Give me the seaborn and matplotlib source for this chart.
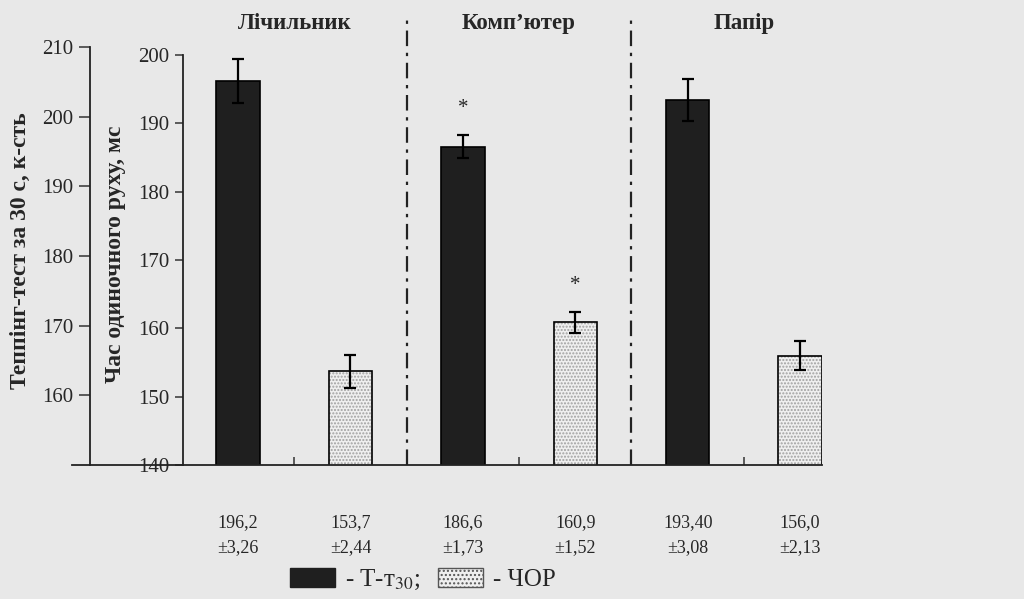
import matplotlib
matplotlib.use("Agg")
import matplotlib.pyplot as plt
from matplotlib.patches import Patch
import matplotlib.colors as mcolors
import pandas as pd
import seaborn as sns


# дані з рисунка
groups = ["Лічильник", "Комп’ютер", "Папір"]
series = ["Т-т30", "ЧОР"]
tapping = [196.2, 186.6, 193.40]
tapping_err = [3.26, 1.73, 3.08]
tapping_txt = ["196,2\n±3,26", "186,6\n±1,73", "193,40\n±3,08"]
reaction = [153.7, 160.9, 156.0]
reaction_err = [2.44, 1.52, 2.13]
reaction_txt = ["153,7\n±2,44", "160,9\n±1,52", "156,0\n±2,13"]
signif_tapping = [False, True, False]
signif_reaction = [False, True, False]

inner_ticks = [140, 150, 160, 170, 180, 190, 200]
outer_ticks = [160, 170, 180, 190, 200, 210]

BG = "#e8e8e8"
DARK = "#1f1f1f"
LIGHT = "#efefef"

sns.set_theme(style="ticks")
plt.rcParams["font.family"] = ["Liberation Serif", "DejaVu Serif"]
plt.rcParams["mathtext.fontset"] = "stix"

# слоти по осі x: Т-т30, проміжок, ЧОР, роздільник ...
order = []
for i, g in enumerate(groups):
    order += [f"{g}|T", f"{g}|gap", f"{g}|C"]
    if i < len(groups) - 1:
        order.append(f"{g}|sep")

rows = []
for g, t, c in zip(groups, tapping, reaction):
    rows.append({"slot": f"{g}|T", "value": t, "series": series[0]})
    rows.append({"slot": f"{g}|C", "value": c, "series": series[1]})
df = pd.DataFrame(rows)

pos_t = [order.index(f"{g}|T") for g in groups]
pos_c = [order.index(f"{g}|C") for g in groups]
pos_mid = [order.index(f"{g}|gap") for g in groups]
pos_sep = [i for i, s in enumerate(order) if s.endswith("|sep")]

fig = plt.figure(figsize=(10.24, 5.99), dpi=100, facecolor=BG)
ax = fig.add_axes([183 / 1024, 134 / 599, 639 / 1024, 410 / 599])
ax.set_facecolor("none")

sns.barplot(
    data=df, x="slot", y="value", hue="series", order=order,
    hue_order=series, palette=[DARK, LIGHT], width=0.77,
    edgecolor="black", linewidth=1.2, errorbar=None, legend=False, ax=ax
)
for p in ax.containers[1]:
    p.set_hatch(".....")
    if hasattr(p, "set_hatchcolor"):
        p.set_hatchcolor("#a0a0a0")
    else:
        p._hatch_color = mcolors.to_rgba("#a0a0a0")

ax.errorbar(pos_t, tapping, yerr=tapping_err, fmt="none", ecolor="black",
            elinewidth=1.6, capsize=4, capthick=1.6)
ax.errorbar(pos_c, reaction, yerr=reaction_err, fmt="none", ecolor="black",
            elinewidth=1.6, capsize=4, capthick=1.6)

for x, v, e, s in zip(pos_t, tapping, tapping_err, signif_tapping):
    if s:
        ax.text(x, v + e + 3.8, "*", ha="center", va="center", fontsize=15)
for x, v, e, s in zip(pos_c, reaction, reaction_err, signif_reaction):
    if s:
        ax.text(x, v + e + 3.8, "*", ha="center", va="center", fontsize=15)

ax.set_xlim(-0.98, 10.39)
ax.set_ylim(140, 200)
ax.set_yticks(inner_ticks)
ax.set_xticks(range(len(order)))
ax.tick_params(axis="x", direction="in", length=6, width=1.1,
               labelbottom=False, color="#333333")
ax.tick_params(axis="y", direction="out", length=6, width=1.1,
               labelsize=15, pad=4, color="#333333")
ax.set_xlabel("")
ax.set_ylabel("Час одиночного руху, мс", fontsize=17, fontweight="bold")
ax.yaxis.set_label_coords(-0.089, 0.515)
sns.despine(ax=ax)
for sp in ["left", "bottom"]:
    ax.spines[sp].set_linewidth(1.3)
    ax.spines[sp].set_color("#222222")

# роздільники груп
for x in pos_sep:
    ax.axvline(x, ymin=0, ymax=1.085, color="#222222", lw=1.6,
               ls=(0, (7, 3, 1.5, 3)), clip_on=False)

# назви груп
trans = ax.get_xaxis_transform()
for x, g in zip(pos_mid, groups):
    ax.text(x, 1.076, g, transform=trans, ha="center", va="center",
            fontsize=16.5, fontweight="bold")

# значення під стовпчиками
for x, t in zip(pos_t, tapping_txt):
    ax.text(x, -0.17, t, transform=trans, ha="center", va="center",
            fontsize=13, linespacing=1.6)
for x, t in zip(pos_c, reaction_txt):
    ax.text(x, -0.17, t, transform=trans, ha="center", va="center",
            fontsize=13, linespacing=1.6)

# зовнішня вісь теппінг-тесту
ax_out = fig.add_axes([72 / 1024, 134 / 599, 111 / 1024, 418 / 599])
ax_out.set_facecolor("none")
ax_out.set_ylim(150, 210)
ax_out.set_yticks(outer_ticks)
ax_out.set_xticks([])
ax_out.spines["top"].set_visible(False)
ax_out.spines["right"].set_visible(False)
ax_out.spines["left"].set_position(("axes", 18 / 111))
for sp in ["left", "bottom"]:
    ax_out.spines[sp].set_linewidth(1.3)
    ax_out.spines[sp].set_color("#222222")
ax_out.tick_params(axis="y", direction="out", length=8, width=1.1,
                   labelsize=15, pad=4, color="#333333")
ax_out.set_ylabel("Теппінг-тест за 30 с, к-сть", fontsize=17,
                  fontweight="bold")
ax_out.yaxis.set_label_coords(-0.37, 0.514)

# легенда
handles = [
    Patch(facecolor=DARK, edgecolor=DARK),
    Patch(facecolor=LIGHT, edgecolor="#555555", hatch="...."),
]
fig.legend(handles=handles, labels=["- Т-т$_{30}$;", "- ЧОР"], ncol=2,
           loc="center", bbox_to_anchor=(423 / 1024, 19 / 599),
           frameon=False, handlelength=1.8, handleheight=0.8,
           columnspacing=0.7, handletextpad=0.4, fontsize=18)

fig.savefig("out.png", dpi=100, facecolor=BG)
